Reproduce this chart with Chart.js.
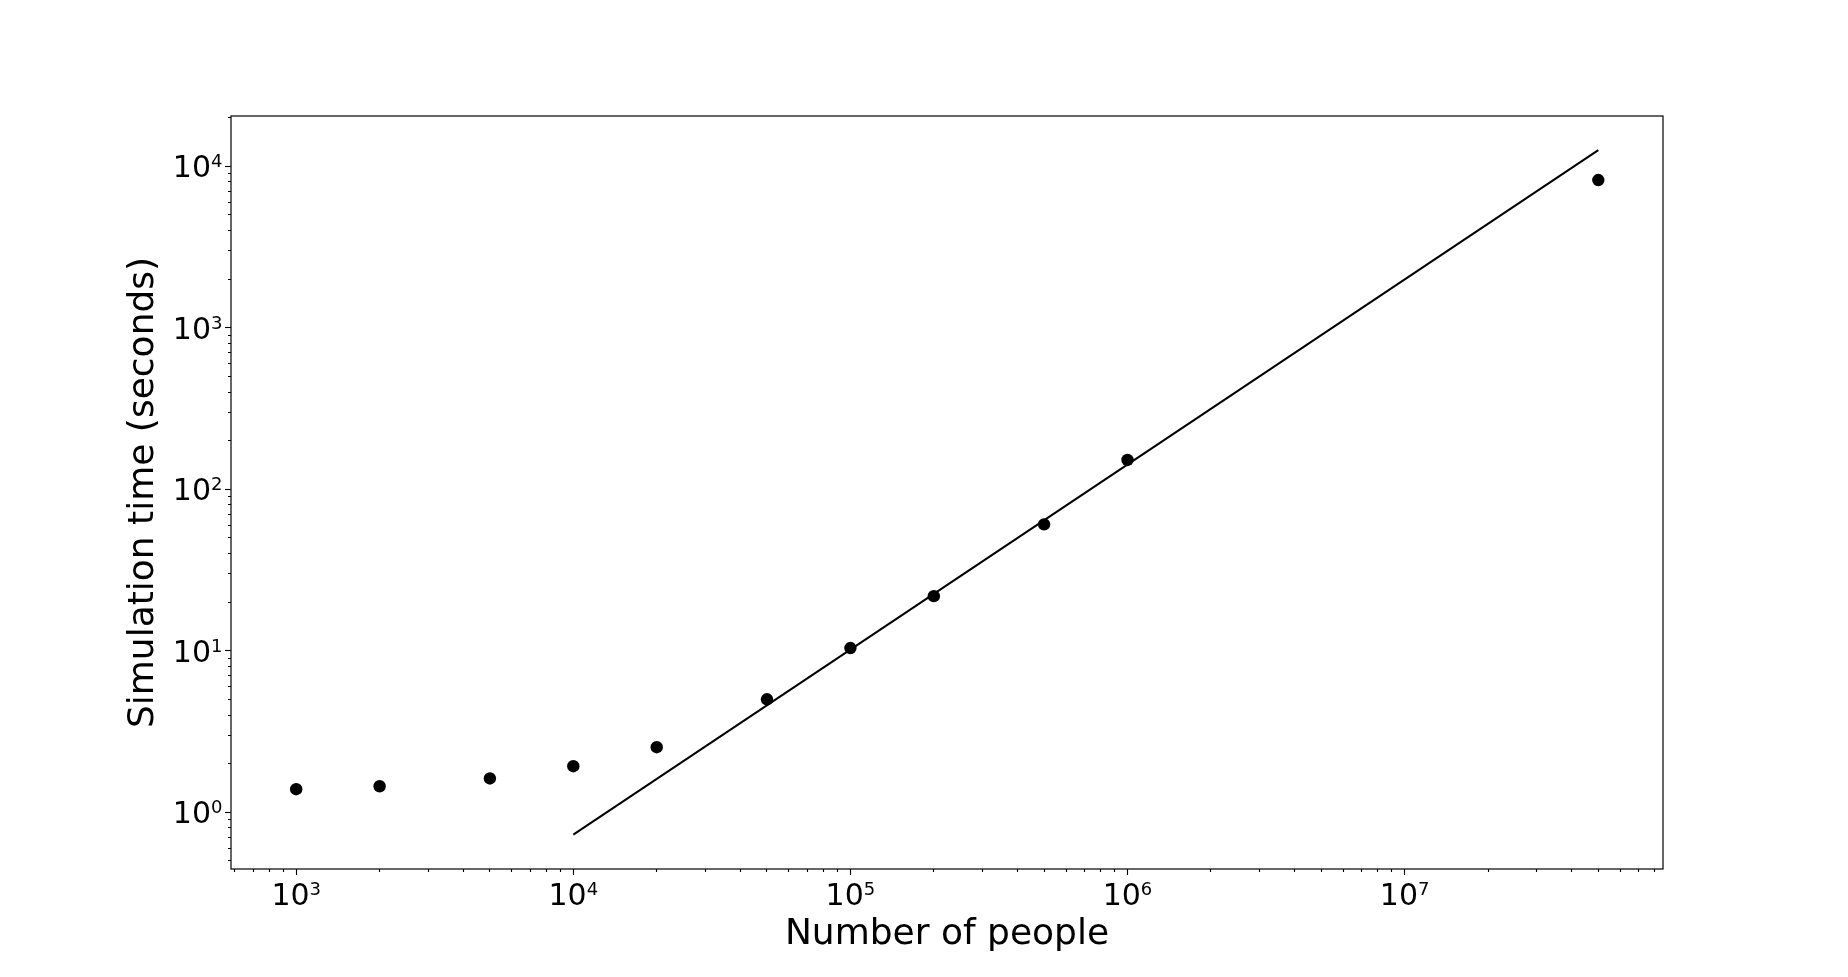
<!DOCTYPE html>
<html>
<head>
<meta charset="utf-8">
<script src="https://cdn.jsdelivr.net/npm/chart.js@4.4.1/dist/chart.umd.min.js"></script>
<style>
    html, body { margin: 0; padding: 0; background: #fff; }
    #wrap { width: 1848px; height: 977px; }
</style>
</head>
<body>
<div id="wrap"><canvas id="myChart"></canvas></div>
<script>
// 人數 vs 模擬時間
const people = [1e3, 2e3, 5e3, 1e4, 2e4, 5e4, 1e5, 2e5, 5e5, 1e6, 5e7];
const simTime = [1.39, 1.45, 1.62, 1.93, 2.53, 5.01, 10.4, 21.8, 60.7, 152, 8220];

// 擬合直線的兩端
const fitPeople = [1e4, 5e7];
const fitTime = [0.728, 12590];

// 主刻度與標籤 (10 的次方)
const xMajorTicks = [1e3, 1e4, 1e5, 1e6, 1e7];
const xTickExponents = ['3', '4', '5', '6', '7'];
const yMajorTicks = [1e0, 1e1, 1e2, 1e3, 1e4];
const yTickExponents = ['0', '1', '2', '3', '4'];

const font = 'DejaVu Sans';

// 產生對數刻度 (1..9 x 10^n)，只有 1 x 10^n 是主刻度
function logTicks(min, max) {
    let ticks = [];
    for (let n = Math.floor(Math.log10(min)); n <= Math.ceil(Math.log10(max)); n++) {
        for (let k = 1; k <= 9; k++) {
            let v = k * Math.pow(10, n);
            if (v >= min && v <= max) ticks.push({ value: v, major: k === 1 });
        }
    }
    return ticks;
}

// 畫 "10" 加上標的刻度標籤
function drawPower(ctx, exp, x, y, align) {
    ctx.font = '30px "' + font + '"';
    let wBase = ctx.measureText('10').width;
    ctx.font = '18px "' + font + '"';
    let wExp = ctx.measureText(exp).width;
    let total = wBase + wExp;
    let start = align === 'center' ? x - total / 2 : x - total;
    ctx.font = '30px "' + font + '"';
    ctx.fillText('10', start, y);
    ctx.font = '18px "' + font + '"';
    ctx.fillText(exp, start + wBase, y - 10);
}

const powerLabelPlugin = {
    id: 'powerLabels',
    afterDraw(chart) {
        const { ctx, chartArea, scales } = chart;
        ctx.save();
        ctx.fillStyle = '#000';
        ctx.textAlign = 'left';
        ctx.textBaseline = 'alphabetic';
        xMajorTicks.forEach((v, i) => {
            drawPower(ctx, xTickExponents[i], scales.x.getPixelForValue(v), chartArea.bottom + 35.5, 'center');
        });
        yMajorTicks.forEach((v, i) => {
            drawPower(ctx, yTickExponents[i], chartArea.left - 8.5, scales.y.getPixelForValue(v) + 11, 'right');
        });
        ctx.restore();
    }
};

// 外框 (上下左右)
const framePlugin = {
    id: 'frame',
    afterDatasetsDraw(chart) {
        const { ctx, chartArea } = chart;
        ctx.save();
        ctx.strokeStyle = '#000';
        ctx.lineWidth = 1.2;
        ctx.strokeRect(chartArea.left, chartArea.top, chartArea.right - chartArea.left, chartArea.bottom - chartArea.top);
        ctx.restore();
    }
};

let tickGrid = (innerFirst) => ({
    drawOnChartArea: false,
    drawTicks: true,
    tickLength: 6,
    tickWidth: 1.1,
    tickColor: '#000',
    tickBorderDash: (c) => (c.tick && c.tick.major) ? [] : (innerFirst ? [3, 100] : [0, 3, 3, 100])
});

let ctx = document.getElementById('myChart').getContext('2d');
window.myChart = new Chart(ctx, {
    data: {
        datasets: [
            {
                type: 'scatter',
                data: people.map((p, i) => ({ x: p, y: simTime[i] })),
                backgroundColor: '#000',
                borderColor: '#000',
                borderWidth: 0,
                pointRadius: 6.2,
                pointHoverRadius: 6.2
            },
            {
                type: 'line',
                data: fitPeople.map((p, i) => ({ x: p, y: fitTime[i] })),
                borderColor: '#000',
                borderWidth: 2,
                pointRadius: 0,
                fill: false
            }
        ]
    },
    options: {
        responsive: true,
        maintainAspectRatio: false,
        animation: false,
        layout: {
            padding: { top: 116, right: 185, bottom: 0, left: 0 }
        },
        plugins: {
            legend: { display: false },
            tooltip: { enabled: false }
        },
        scales: {
            x: {
                type: 'logarithmic',
                position: 'bottom',
                bounds: 'data',
                min: 581.7,
                max: 8.56e7,
                afterBuildTicks: (scale) => { scale.ticks = logTicks(scale.min, scale.max); },
                afterFit: (scale) => { scale.height = 108; },
                border: { display: false },
                grid: tickGrid(true),
                ticks: {
                    display: false,
                    autoSkip: false,
                    maxRotation: 0,
                    minRotation: 0
                },
                title: {
                    display: true,
                    text: 'Number of people',
                    color: '#000',
                    font: { family: font, size: 36 },
                    padding: { top: 0, bottom: 21 }
                }
            },
            y: {
                type: 'logarithmic',
                position: 'left',
                bounds: 'data',
                min: 0.4457,
                max: 20490,
                afterBuildTicks: (scale) => { scale.ticks = logTicks(scale.min, scale.max); },
                afterFit: (scale) => { scale.width = 231; },
                border: { display: false },
                grid: tickGrid(false),
                ticks: {
                    display: false,
                    autoSkip: false
                },
                title: {
                    display: true,
                    text: 'Simulation time (seconds)',
                    color: '#000',
                    font: { family: font, size: 36 },
                    padding: { top: 122, bottom: 0 }
                }
            }
        }
    },
    plugins: [framePlugin, powerLabelPlugin]
});
</script>
</body>
</html>
